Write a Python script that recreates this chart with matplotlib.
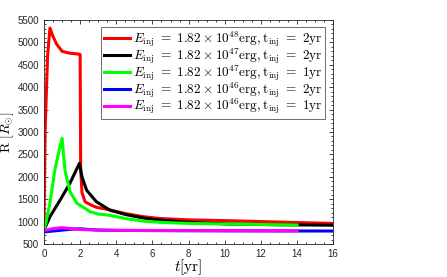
import matplotlib
matplotlib.use("Agg")
import matplotlib.pyplot as plt
from matplotlib.ticker import AutoMinorLocator

plt.rcParams['mathtext.fontset'] = 'cm'
plt.rcParams['font.family'] = ['Liberation Sans', 'DejaVu Sans']

# ----------------------------
# Data
# ----------------------------
t_red = [0, 0.06, 0.2, 0.33, 0.5, 0.7, 1.0, 1.4, 1.9, 2.0, 2.03, 2.1, 2.27, 2.6, 2.9, 3.6, 4.5, 5.5, 6.4, 8, 10.3, 13, 16]
r_red = [810, 3000, 4700, 5320, 5130, 4960, 4800, 4760, 4740, 4730, 2200, 1650, 1445, 1370, 1320, 1265, 1180, 1110, 1070, 1040, 1020, 990, 960]

t_black = [0, 0.33, 0.89, 1.44, 1.96, 2.1, 2.36, 2.9, 3.65, 4.5, 5.5, 6.4, 8, 10.3, 13, 16]
r_black = [810, 1110, 1480, 1860, 2300, 2000, 1700, 1445, 1255, 1160, 1080, 1035, 985, 946, 930, 920]

t_green = [0, 0.15, 0.33, 0.6, 0.8, 1.0, 1.16, 1.44, 1.81, 2.55, 3.0, 3.65, 4.5, 5.5, 6.4, 8, 10.3, 14]
r_green = [810, 1050, 1420, 2150, 2520, 2860, 2150, 1670, 1415, 1220, 1170, 1140, 1070, 1010, 985, 960, 946, 925]

t_blue = [0, 0.5, 1.0, 1.5, 2.0, 2.5, 3, 4, 6, 10, 16]
r_blue = [770, 790, 810, 830, 840, 825, 812, 805, 800, 795, 790]

t_magenta = [0, 0.5, 1.0, 1.5, 2.0, 3, 4, 8, 14]
r_magenta = [800, 845, 865, 845, 825, 810, 805, 800, 795]

labels = [
    r'$E_{\rm inj}\ =\ 1.82\times10^{48}{\rm erg},{\rm t}_{\rm inj}\ =\ 2{\rm yr}$',
    r'$E_{\rm inj}\ =\ 1.82\times10^{47}{\rm erg},{\rm t}_{\rm inj}\ =\ 2{\rm yr}$',
    r'$E_{\rm inj}\ =\ 1.82\times10^{47}{\rm erg},{\rm t}_{\rm inj}\ =\ 1{\rm yr}$',
    r'$E_{\rm inj}\ =\ 1.82\times10^{46}{\rm erg},{\rm t}_{\rm inj}\ =\ 2{\rm yr}$',
    r'$E_{\rm inj}\ =\ 1.82\times10^{46}{\rm erg},{\rm t}_{\rm inj}\ =\ 1{\rm yr}$',
]

# --------------------------------------------------
# Plot
# --------------------------------------------------
fig = plt.figure(figsize=(4.47, 2.77), dpi=100)
ax = fig.add_axes([0.0984, 0.119, 0.647, 0.809])

series = [
    (t_red, r_red, (1, 0, 0)),
    (t_black, r_black, (0, 0, 0)),
    (t_green, r_green, (0, 1, 0)),
    (t_blue, r_blue, (0, 0, 1)),
    (t_magenta, r_magenta, (1, 0, 1)),
]
for (t, r, c), lab in zip(series, labels):
    ax.plot(t, r, color=c, lw=2.2, label=lab, solid_joinstyle='round')

ax.set_xlim(0, 16)
ax.set_ylim(500, 5500)
ax.set_xticks(range(0, 17, 2))
ax.set_yticks(range(500, 5501, 500))
ax.xaxis.set_minor_locator(AutoMinorLocator(4))
ax.yaxis.set_minor_locator(AutoMinorLocator(5))

grey = '#262626'
ax.tick_params(which='both', direction='in', top=True, right=True,
               colors=grey, labelsize=7, width=0.6)
ax.tick_params(which='major', length=3)
ax.tick_params(which='minor', length=1.5)
for s in ax.spines.values():
    s.set_color(grey)
    s.set_linewidth(0.6)

ax.set_xlabel(r'$t[{\rm yr}]$', fontsize=11, labelpad=-1)
ax.set_ylabel(r'${\rm R}\ [R_{\odot}]$', fontsize=10, labelpad=1)

leg = ax.legend(loc='upper right', bbox_to_anchor=(0.972, 0.969), fontsize=9.5,
                fancybox=False, framealpha=1, edgecolor='#555555',
                handlelength=2.0, handletextpad=0.2, borderpad=0.2,
                labelspacing=-0.2, borderaxespad=0)
leg.get_frame().set_linewidth(0.6)

fig.savefig("out.png", dpi=100)
